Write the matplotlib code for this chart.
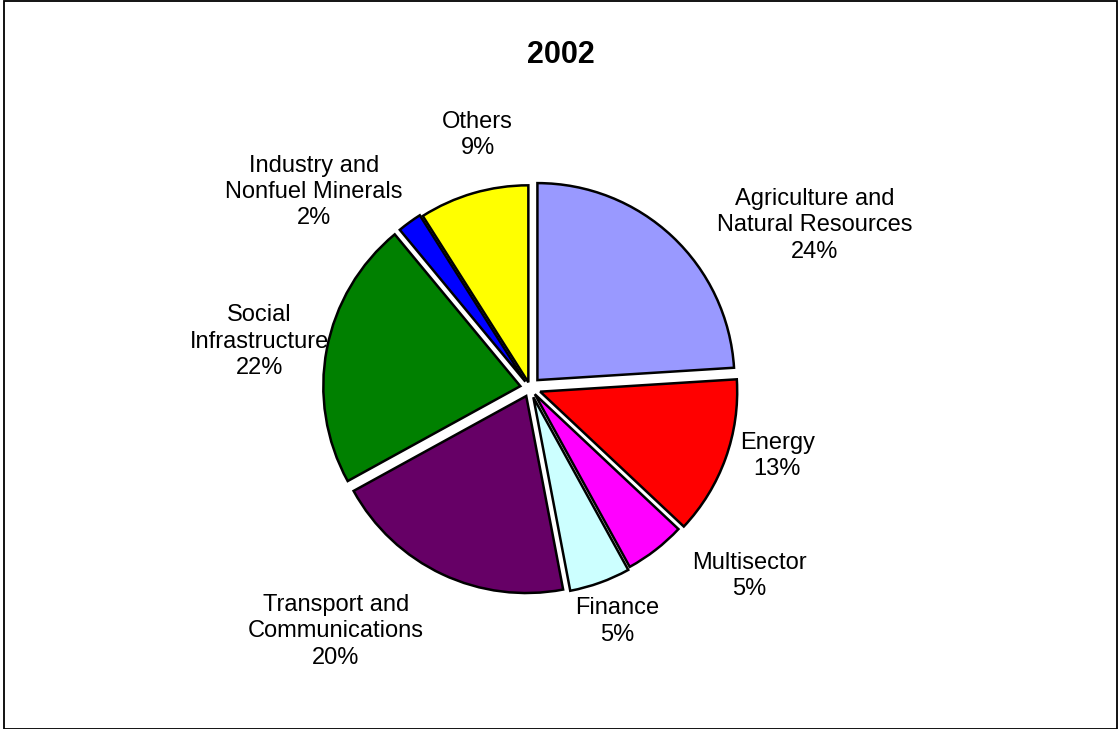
import matplotlib.pyplot as plt
from matplotlib.patches import Rectangle

plt.rcParams['font.family'] = ['Liberation Sans', 'DejaVu Sans']

# data
sectors = ['Agriculture and\nNatural Resources', 'Energy', 'Multisector', 'Finance',
           'Transport and\nCommunications', 'Social\nInfrastructure',
           'Industry and\nNonfuel Minerals', 'Others']
shares = [24, 13, 5, 5, 20, 22, 2, 9]
colors = ['#9999FF', '#FF0000', '#FF00FF', '#CCFFFF', '#660066', '#008000', '#0000FF', '#FFFF00']
explode = [0.055, 0.055, 0.04, 0.05, 0.045, 0.05, 0.04, 0.03]

# label placement, offsets from pie centre in radius units
label_off = [(1.46, 0.81), (1.27, -0.36), (1.13, -0.97), (0.46, -1.20),
             (-0.97, -1.25), (-1.36, 0.22), (-1.08, 0.98), (-0.25, 1.27)]

W, H = 1118, 729
fig = plt.figure(figsize=(W / 100, H / 100), dpi=100)
ax = fig.add_axes([0, 0, 1, 1])
ax.set_xlim(0, W)
ax.set_ylim(0, H)
ax.set_aspect('equal')
ax.axis('off')

cx, cy, r = 530, H - 388, 197
wedges, _ = ax.pie(shares, colors=colors, explode=[e * r for e in explode], startangle=90,
                   counterclock=False, center=(cx, cy), radius=r,
                   wedgeprops=dict(edgecolor='black', linewidth=1.8))
ax.set_xlim(0, W)
ax.set_ylim(0, H)

for name, val, (dx, dy) in zip(sectors, shares, label_off):
    ax.text(527 + dx * 197, H - 385 + dy * 197, f'{name}\n{val}%', ha='center', va='center',
            fontsize=17, linespacing=1.25)

ax.text(W / 2 + 2, H - 55, '2002', ha='center', va='center', fontsize=22, fontweight='bold')

fig.patches.append(Rectangle((3.5 / W, 0.5 / H), (W - 5) / W, (H - 1.5) / H,
                             transform=fig.transFigure, fill=False,
                             edgecolor='black', linewidth=1.3))

fig.savefig('out.png', dpi=100)
